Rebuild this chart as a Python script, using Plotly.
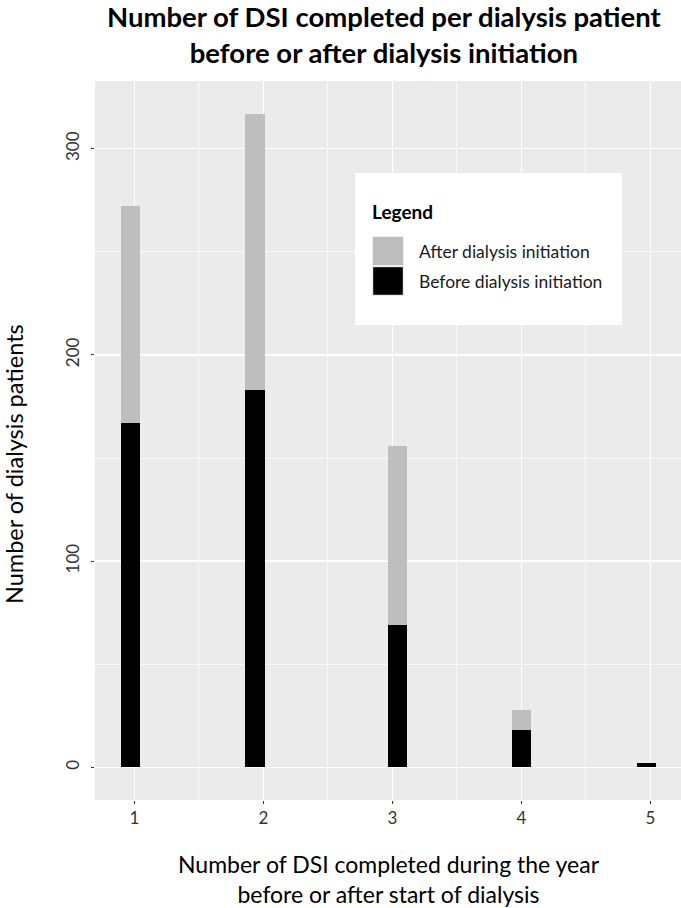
import plotly.graph_objects as go

# ---- data ----
dsi_count_labels = ["1", "2", "3", "4", "5"]
dsi_tick_values = [1, 2, 3, 4, 5]
bar_centres = [0.969, 1.934, 3.037, 4.0, 4.967]   # as drawn in the source figure
before_initiation = [167, 183, 69, 18, 2]
after_initiation = [105, 134, 87, 10, 0]
series_names = ["After dialysis initiation", "Before dialysis initiation"]
series_colors = ["#BEBEBE", "#000000"]
y_tick_values = [0, 100, 200, 300]

FONT = "Lato"
W, H = 681, 908
ML, MR, MT, MB = 95, 0, 81, 108

fig = go.Figure()
fig.add_trace(go.Bar(x=bar_centres, y=before_initiation, width=0.15,
                     marker=dict(color=series_colors[1], line=dict(width=0)),
                     name=series_names[1], showlegend=False))
fig.add_trace(go.Bar(x=bar_centres, y=after_initiation, width=0.15,
                     marker=dict(color=series_colors[0], line=dict(width=0)),
                     name=series_names[0], showlegend=False))

pw = W - ML - MR
ph = H - MT - MB
def px(x):
    return (x - ML) / pw
def py(y):
    return 1 - (y - MT) / ph

shapes = []
# faint zero reference line
shapes.append(dict(type="line", xref="paper", yref="y", x0=0, x1=1, y0=0, y1=0,
                   line=dict(color="#D2D2D2", width=1), layer="between"))
# manual legend box
shapes.append(dict(type="rect", xref="paper", yref="paper",
                   x0=px(355), x1=px(622), y0=py(325), y1=py(173),
                   fillcolor="white", line=dict(width=0), layer="above"))
sw_tops = [237, 267]
for top, col in zip(sw_tops, series_colors):
    shapes.append(dict(type="rect", xref="paper", yref="paper",
                       x0=px(373), x1=px(403), y0=py(top + 28), y1=py(top),
                       fillcolor=col, line=dict(color="#BBBBBB" if col == "#000000" else col, width=0.5),
                       layer="above"))

annotations = []
annotations.append(dict(xref="paper", yref="paper", x=px(384), y=py(35),
                        text="<b>Number of DSI completed per dialysis patient<br>before or after dialysis initiation</b>",
                        showarrow=False, xanchor="center", yanchor="middle",
                        font=dict(family=FONT, size=27.5, color="#000000")))
annotations.append(dict(xref="paper", yref="paper", x=px(370), y=py(212),
                        text="<b>Legend</b>", showarrow=False, xanchor="left", yanchor="middle",
                        font=dict(family=FONT, size=19, color="#000000")))
for top, name in zip(sw_tops, series_names):
    annotations.append(dict(xref="paper", yref="paper", x=px(417), y=py(top + 14),
                            text=name, showarrow=False, xanchor="left", yanchor="middle",
                            font=dict(family=FONT, size=17.5, color="#1A1A1A")))
# axis titles
annotations.append(dict(xref="paper", yref="paper", x=px(389), y=py(879),
                        text="Number of DSI completed during the year<br>before or after start of dialysis",
                        showarrow=False, xanchor="center", yanchor="middle",
                        font=dict(family=FONT, size=23, color="#000000")))
annotations.append(dict(xref="paper", yref="paper", x=px(14), y=py(464),
                        text="Number of dialysis patients", textangle=-90,
                        showarrow=False, xanchor="center", yanchor="middle",
                        font=dict(family=FONT, size=23.5, color="#000000")))

fig.update_layout(
    width=W, height=H,
    margin=dict(l=ML, r=MR, t=MT, b=MB, pad=0, autoexpand=False),
    paper_bgcolor="white", plot_bgcolor="#EBEBEB",
    barmode="stack", bargap=0,
    showlegend=False,
    shapes=shapes, annotations=annotations,
    xaxis=dict(range=[0.694, 5.237], tickmode="array", tickvals=dsi_tick_values,
               ticktext=dsi_count_labels, showgrid=True, gridcolor="white", gridwidth=1.4,
               minor=dict(dtick=0.5, tick0=0.5, showgrid=True, gridcolor="white", gridwidth=0.7, ticklen=0),
               ticks="outside", ticklen=3, tickcolor="#333333", tickwidth=1,
               zeroline=False, showline=False, automargin=False,
               tickfont=dict(family=FONT, size=17, color="#333333")),
    yaxis=dict(range=[-15.85, 332.85], tickmode="array", tickvals=y_tick_values,
               showgrid=True, gridcolor="white", gridwidth=1.4,
               minor=dict(tickvals=[50, 150, 250], showgrid=True, gridcolor="white", gridwidth=0.7, ticklen=0),
               ticks="outside", ticklen=3, tickcolor="#333333", tickwidth=1,
               tickangle=-90, ticklabelstandoff=5, zeroline=False, showline=False, automargin=False,
               tickfont=dict(family=FONT, size=17, color="#333333")),
)

fig.write_html("out.html", config={"displayModeBar": False, "staticPlot": True},
               post_script="document.body.style.margin='0';document.body.style.overflow='hidden';")
